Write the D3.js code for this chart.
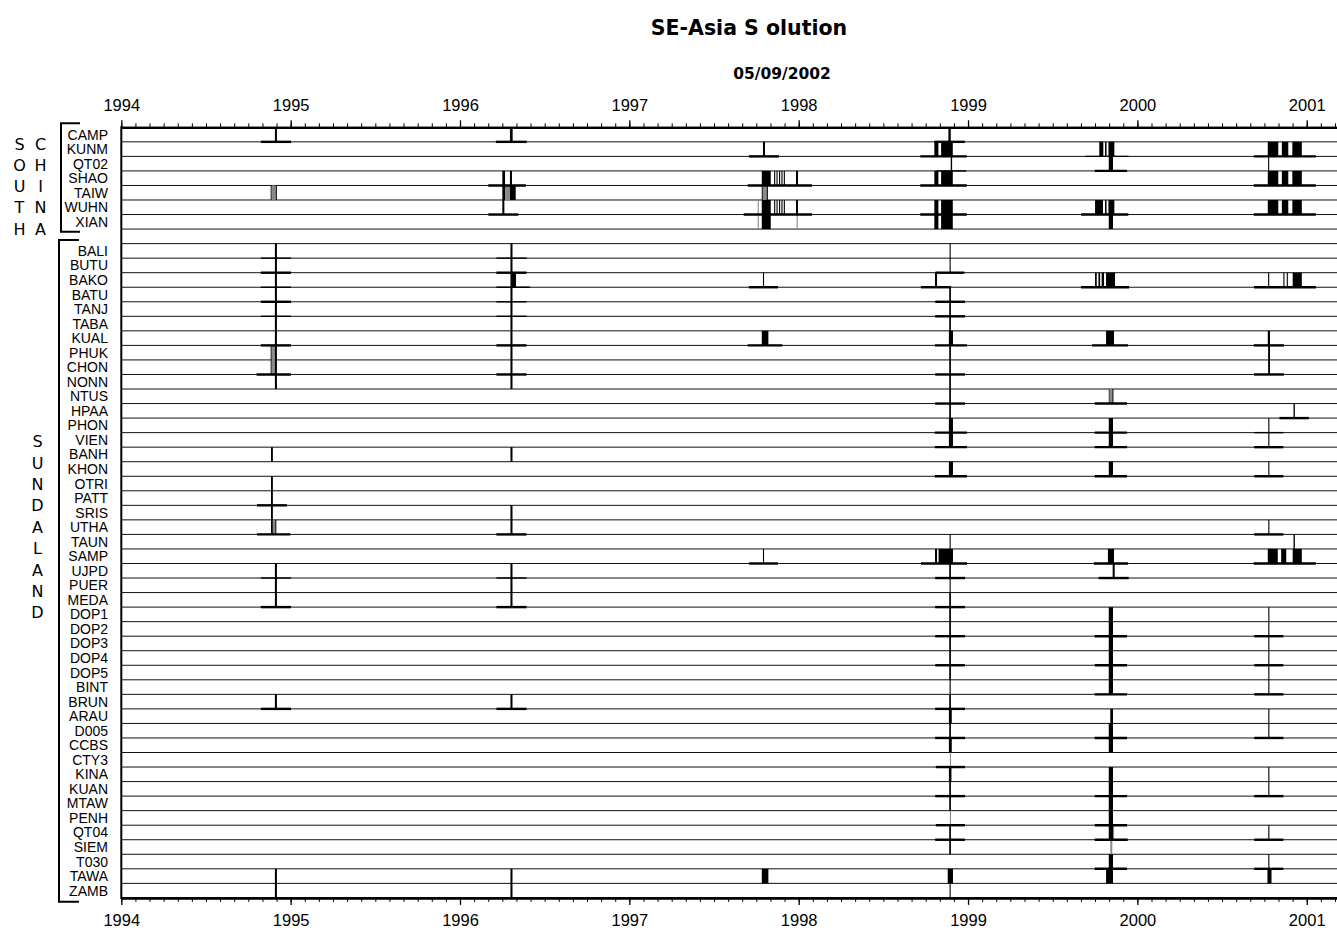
<!DOCTYPE html>
<html>
<head>
<meta charset="utf-8">
<script src="https://cdn.jsdelivr.net/npm/d3@7"></script>
<style>
  html, body { margin: 0; padding: 0; background: #fff; }
  svg { display: block; }
</style>
</head>
<body>
<svg id="chart" width="1337" height="931"></svg>
<script>
// ---------------- DATA ----------------
const titleText = "SE-Asia S olution";
const dateText = "05/09/2002";
const years = [1994, 1995, 1996, 1997, 1998, 1999, 2000, 2001];
const southChina = ["CAMP","KUNM","QT02","SHAO","TAIW","WUHN","XIAN"];
const sundaland = ["BALI","BUTU","BAKO","BATU","TANJ","TABA","KUAL","PHUK","CHON","NONN",
  "NTUS","HPAA","PHON","VIEN","BANH","KHON","OTRI","PATT","SRIS","UTHA","TAUN","SAMP",
  "UJPD","PUER","MEDA","DOP1","DOP2","DOP3","DOP4","DOP5","BINT","BRUN","ARAU","D005",
  "CCBS","CTY3","KINA","KUAN","MTAW","PENH","QT04","SIEM","T030","TAWA","ZAMB"];
const groupNames = ["SOUTH", "CHINA", "SUNDALAND"];
// events: [station, baseline mark level (0 none, 1 faint, 2 strong), bars [[start, end, kind]]]
// kind 1 = secondary (grey) bar
const events = [
  ["CAMP",2,[[1994.907,1994.919]]],
  ["CAMP",2,[[1996.295,1996.311]]],
  ["CAMP",2,[[1998.884,1998.898]]],
  ["KUNM",2,[[1997.789,1997.801]]],
  ["KUNM",2,[[1998.801,1998.825],[1998.841,1998.910]]],
  ["KUNM",1,[[1999.775,1999.799],[1999.809,1999.818],[1999.829,1999.864]]],
  ["KUNM",2,[[2000.770,2000.832],[2000.853,2000.891],[2000.915,2000.971]]],
  ["QT02",1,[[1998.898,1998.906]]],
  ["QT02",2,[[1999.831,1999.856]]],
  ["QT02",0,[[2000.772,2000.776]]],
  ["SHAO",2,[[1996.250,1996.266],[1996.295,1996.307]]],
  ["SHAO",2,[[1997.782,1997.835],[1997.855,1997.861],[1997.869,1997.875],[1997.884,1997.890],[1997.898,1997.904],[1997.912,1997.918],[1997.984,1997.996]]],
  ["SHAO",2,[[1998.801,1998.825],[1998.841,1998.910]]],
  ["SHAO",2,[[2000.770,2000.832],[2000.853,2000.891],[2000.915,2000.971]]],
  ["TAIW",0,[[1994.882,1994.888],[1994.888,1994.912,1],[1994.912,1994.918]]],
  ["TAIW",0,[[1996.250,1996.266],[1996.266,1996.295,1],[1996.295,1996.329]]],
  ["TAIW",0,[[1997.782,1997.788],[1997.788,1997.811,1],[1997.811,1997.818]]],
  ["WUHN",2,[[1996.250,1996.262]]],
  ["WUHN",2,[[1997.758,1997.762,1],[1997.782,1997.835],[1997.855,1997.861],[1997.869,1997.875],[1997.884,1997.890],[1997.898,1997.904],[1997.912,1997.918],[1997.984,1997.996]]],
  ["WUHN",2,[[1998.801,1998.825],[1998.841,1998.910]]],
  ["WUHN",2,[[1999.750,1999.797],[1999.809,1999.818],[1999.829,1999.864]]],
  ["WUHN",2,[[2000.770,2000.832],[2000.853,2000.891],[2000.915,2000.971]]],
  ["XIAN",0,[[1997.758,1997.762,1],[1997.782,1997.835],[1997.988,1997.992,1]]],
  ["XIAN",0,[[1998.801,1998.825],[1998.841,1998.910]]],
  ["XIAN",0,[[1999.831,1999.856]]],

  ["BALI",1,[[1994.907,1994.919]]],
  ["BALI",1,[[1996.298,1996.310]]],
  ["BALI",0,[[1998.891,1998.895]]],
  ["BUTU",2,[[1994.907,1994.919]]],
  ["BUTU",2,[[1996.298,1996.310]]],
  ["BUTU",2,[[1998.891,1998.895]]],
  ["BAKO",1,[[1994.907,1994.919]]],
  ["BAKO",1,[[1996.298,1996.331]]],
  ["BAKO",2,[[1997.789,1997.795]]],
  ["BAKO",2,[[1998.805,1998.817]]],
  ["BAKO",2,[[1999.750,1999.760],[1999.770,1999.780],[1999.789,1999.803],[1999.815,1999.868]]],
  ["BAKO",2,[[2000.772,2000.776],[2000.862,2000.865],[2000.882,2000.886],[2000.917,2000.971]]],
  ["BATU",2,[[1994.907,1994.919]]],
  ["BATU",1,[[1996.298,1996.310]]],
  ["BATU",2,[[1998.889,1998.899]]],
  ["TANJ",1,[[1994.907,1994.919]]],
  ["TANJ",1,[[1996.298,1996.310]]],
  ["TANJ",2,[[1998.889,1998.899]]],
  ["TABA",0,[[1994.907,1994.919]]],
  ["TABA",0,[[1996.298,1996.310]]],
  ["TABA",0,[[1998.889,1998.899]]],
  ["KUAL",2,[[1994.907,1994.919]]],
  ["KUAL",2,[[1996.298,1996.310]]],
  ["KUAL",2,[[1997.782,1997.821]]],
  ["KUAL",2,[[1998.887,1998.911]]],
  ["KUAL",2,[[1999.815,1999.862]]],
  ["KUAL",2,[[2000.770,2000.783]]],
  ["PHUK",0,[[1994.882,1994.888],[1994.888,1994.907,1],[1994.907,1994.919]]],
  ["PHUK",0,[[1996.298,1996.310]]],
  ["PHUK",0,[[1998.889,1998.899]]],
  ["PHUK",0,[[2000.772,2000.783]]],
  ["CHON",2,[[1994.882,1994.888],[1994.888,1994.907,1],[1994.907,1994.919]]],
  ["CHON",2,[[1996.298,1996.310]]],
  ["CHON",2,[[1998.889,1998.899]]],
  ["CHON",2,[[2000.772,2000.783]]],
  ["NONN",0,[[1994.907,1994.919]]],
  ["NONN",0,[[1996.298,1996.310]]],
  ["NONN",0,[[1998.889,1998.899]]],
  ["NTUS",2,[[1998.889,1998.899]]],
  ["NTUS",2,[[1999.831,1999.835],[1999.835,1999.852,1],[1999.852,1999.856]]],
  ["HPAA",0,[[1998.889,1998.899]]],
  ["HPAA",2,[[2000.922,2000.930]]],
  ["PHON",2,[[1998.887,1998.911]]],
  ["PHON",2,[[1999.831,1999.856]]],
  ["PHON",1,[[2000.773,2000.779]]],
  ["VIEN",2,[[1998.887,1998.911]]],
  ["VIEN",2,[[1999.831,1999.856]]],
  ["VIEN",2,[[2000.773,2000.779]]],
  ["BANH",0,[[1994.884,1994.895]]],
  ["BANH",0,[[1996.298,1996.310]]],
  ["KHON",2,[[1998.887,1998.911]]],
  ["KHON",2,[[1999.831,1999.856]]],
  ["KHON",2,[[2000.773,2000.779]]],
  ["OTRI",0,[[1994.884,1994.895]]],
  ["PATT",2,[[1994.884,1994.895]]],
  ["SRIS",0,[[1994.884,1994.895]]],
  ["SRIS",0,[[1996.298,1996.310]]],
  ["UTHA",2,[[1994.884,1994.895],[1994.895,1994.909,1],[1994.909,1994.915]]],
  ["UTHA",2,[[1996.298,1996.310]]],
  ["UTHA",2,[[2000.773,2000.779]]],
  ["TAUN",0,[[1998.891,1998.895]]],
  ["TAUN",0,[[2000.922,2000.930]]],
  ["SAMP",2,[[1997.789,1997.795]]],
  ["SAMP",2,[[1998.805,1998.817],[1998.826,1998.911]]],
  ["SAMP",2,[[1999.826,1999.862]]],
  ["SAMP",2,[[2000.770,2000.829],[2000.849,2000.879],[2000.917,2000.971]]],
  ["UJPD",1,[[1994.907,1994.919]]],
  ["UJPD",1,[[1996.298,1996.310]]],
  ["UJPD",2,[[1998.889,1998.899]]],
  ["UJPD",2,[[1999.854,1999.866]]],
  ["PUER",0,[[1994.907,1994.919]]],
  ["PUER",0,[[1996.298,1996.310]]],
  ["PUER",0,[[1998.891,1998.895]]],
  ["MEDA",2,[[1994.907,1994.919]]],
  ["MEDA",2,[[1996.298,1996.310]]],
  ["MEDA",2,[[1998.889,1998.899]]],
  ["DOP1",0,[[1998.889,1998.899]]],
  ["DOP1",0,[[1999.831,1999.856]]],
  ["DOP1",0,[[2000.773,2000.779]]],
  ["DOP2",2,[[1998.889,1998.899]]],
  ["DOP2",2,[[1999.831,1999.856]]],
  ["DOP2",2,[[2000.773,2000.779]]],
  ["DOP3",0,[[1998.889,1998.899]]],
  ["DOP3",0,[[1999.831,1999.856]]],
  ["DOP3",0,[[2000.773,2000.779]]],
  ["DOP4",2,[[1998.889,1998.899]]],
  ["DOP4",2,[[1999.831,1999.856]]],
  ["DOP4",2,[[2000.773,2000.779]]],
  ["DOP5",0,[[1998.889,1998.899]]],
  ["DOP5",0,[[1999.831,1999.856]]],
  ["DOP5",0,[[2000.773,2000.779]]],
  ["BINT",0,[[1998.891,1998.895]]],
  ["BINT",2,[[1999.831,1999.856]]],
  ["BINT",2,[[2000.773,2000.779]]],
  ["BRUN",2,[[1994.907,1994.919]]],
  ["BRUN",2,[[1996.298,1996.310]]],
  ["BRUN",2,[[1998.889,1998.899]]],
  ["ARAU",0,[[1998.887,1998.904]]],
  ["ARAU",0,[[1999.840,1999.856]]],
  ["ARAU",0,[[2000.773,2000.779]]],
  ["D005",2,[[1998.889,1998.899]]],
  ["D005",2,[[1999.831,1999.856]]],
  ["D005",2,[[2000.773,2000.779]]],
  ["CCBS",0,[[1998.887,1998.904]]],
  ["CCBS",0,[[1999.831,1999.856]]],
  ["CTY3",2,[[1998.893,1998.899,1]]],
  ["KINA",0,[[1998.887,1998.902]]],
  ["KINA",0,[[1999.831,1999.856]]],
  ["KINA",0,[[2000.773,2000.779]]],
  ["KUAN",2,[[1998.889,1998.899]]],
  ["KUAN",2,[[1999.831,1999.856]]],
  ["KUAN",2,[[2000.773,2000.779]]],
  ["MTAW",0,[[1998.889,1998.899]]],
  ["MTAW",0,[[1999.831,1999.856]]],
  ["PENH",2,[[1998.893,1998.899,1]]],
  ["PENH",2,[[1999.831,1999.856]]],
  ["QT04",2,[[1998.889,1998.899]]],
  ["QT04",2,[[1999.831,1999.856],[1999.856,1999.860,1]]],
  ["QT04",2,[[2000.773,2000.779]]],
  ["SIEM",0,[[1998.889,1998.899]]],
  ["SIEM",0,[[1999.840,1999.852,1]]],
  ["T030",2,[[1999.831,1999.856]]],
  ["T030",2,[[2000.773,2000.779]]],
  ["TAWA",0,[[1994.907,1994.919]]],
  ["TAWA",0,[[1996.298,1996.310]]],
  ["TAWA",0,[[1997.782,1997.821]]],
  ["TAWA",0,[[1998.880,1998.911]]],
  ["TAWA",0,[[1999.815,1999.856]]],
  ["TAWA",0,[[2000.768,2000.792]]],
  ["ZAMB",0,[[1994.907,1994.919]]],
  ["ZAMB",0,[[1996.298,1996.310]]],
  ["ZAMB",0,[[1998.891,1998.895]]]
];
const markHalfSpan = 0.083; // years either side of an event cluster

// ---------------- CHART ----------------
const svg = d3.select("#chart");
const FONT = "'Liberation Sans', Arial, Helvetica, sans-serif";
const TITLEFONT = "'DejaVu Sans', Verdana, sans-serif";

const rows = [...southChina, "", ...sundaland];
const x = d3.scaleLinear().domain([1994, 2001.2]).range([121.3, 1340.6]);
const y = d3.scaleBand().domain(rows).range([127.3, 897.9]);
const bw = y.bandwidth();
const barColor = d3.scaleOrdinal().domain([0, 1]).range(["#000", "#8a8a8a"]);
const markWidth = d3.scaleOrdinal().domain([1, 2]).range([1.4, 2.4]);

// Title
svg.append("text").attr("x", 749).attr("y", 35).attr("text-anchor", "middle")
  .attr("font-family", TITLEFONT).attr("font-weight", "bold").attr("font-size", 20.5)
  .text(titleText);
svg.append("text").attr("x", 782).attr("y", 79).attr("text-anchor", "middle")
  .attr("font-family", TITLEFONT).attr("font-weight", "bold").attr("font-size", 15.5)
  .text(dateText);

// baselines for every row
const plot = svg.append("g");
plot.selectAll("line.base").data(rows).join("line")
  .attr("class", "base")
  .attr("x1", x(1994)).attr("x2", x(2001.2))
  .attr("y1", d => y(d) + bw).attr("y2", d => y(d) + bw)
  .attr("stroke", "#111").attr("stroke-width", 1);

// bars
const barData = [];
events.forEach(([st, lvl, bars]) => bars.forEach(b => barData.push({st, s: b[0], e: b[1], k: b[2] || 0})));
plot.selectAll("rect.bar").data(barData).join("rect")
  .attr("class", "bar")
  .attr("x", d => x(d.s))
  .attr("width", d => Math.max(1.1, x(d.e) - x(d.s)))
  .attr("y", d => y(d.st))
  .attr("height", bw)
  .attr("fill", d => barColor(d.k));

// baseline marks
const markData = events.filter(e => e[1] > 0).map(([st, lvl, bars]) => ({
  st, lvl,
  s: d3.min(bars, b => b[0]) - markHalfSpan,
  e: d3.max(bars, b => b[1]) + markHalfSpan
}));
plot.selectAll("line.mark").data(markData).join("line")
  .attr("class", "mark")
  .attr("x1", d => x(d.s)).attr("x2", d => x(d.e))
  .attr("y1", d => y(d.st) + bw).attr("y2", d => y(d.st) + bw)
  .attr("stroke", "#000").attr("stroke-width", d => markWidth(d.lvl));

// Axes
const months = d3.range(0, 7 * 12 + 3).map(i => 1994 + i / 12);
function styleAxis(g, lw) {
  g.selectAll("text").attr("font-family", FONT).attr("font-size", 16.5).attr("fill", "#000");
  g.selectAll("line").attr("stroke", "#000").attr("stroke-width", 1);
  g.select(".domain").attr("stroke", "#000").attr("stroke-width", lw);
}
const yTop = y.range()[0], yBot = y.range()[1];
svg.append("g").attr("transform", `translate(0,${yTop})`)
  .call(d3.axisTop(x).tickValues(months).tickSize(4).tickSizeOuter(0).tickFormat(""))
  .call(g => { styleAxis(g, 2.2); });
svg.append("g").attr("transform", `translate(0,${yTop})`)
  .call(d3.axisTop(x).tickValues(years).tickSize(7).tickSizeOuter(0).tickPadding(9.6).tickFormat(d3.format("d")))
  .call(g => { styleAxis(g, 2.2); g.selectAll("line").attr("stroke-width", 1.3); });
svg.append("g").attr("transform", `translate(0,${yBot})`)
  .call(d3.axisBottom(x).tickValues(months).tickSize(4).tickSizeOuter(0).tickFormat(""))
  .call(g => { styleAxis(g, 2.2); });
svg.append("g").attr("transform", `translate(0,${yBot})`)
  .call(d3.axisBottom(x).tickValues(years).tickSize(7).tickSizeOuter(0).tickPadding(9).tickFormat(d3.format("d")))
  .call(g => { styleAxis(g, 2.2); g.selectAll("line").attr("stroke-width", 1.3); });

// left axis line
svg.append("line").attr("x1", x(1994)).attr("x2", x(1994))
  .attr("y1", yTop - 1).attr("y2", yBot + 1)
  .attr("stroke", "#000").attr("stroke-width", 2);

// station labels (centred in their rows)
svg.append("g").selectAll("text").data(rows.filter(r => r !== "")).join("text")
  .attr("x", 108).attr("y", d => y(d) + bw / 2 + 5)
  .attr("text-anchor", "end")
  .attr("font-family", FONT).attr("font-size", 14).attr("fill", "#000")
  .text(d => d);

// group brackets
function bracket(x0, x1, y0, y1) {
  svg.append("path")
    .attr("d", `M${x1},${y0}H${x0}V${y1}H${x1}`)
    .attr("fill", "none").attr("stroke", "#000").attr("stroke-width", 2);
}
bracket(61, 80, 123.3, 231.7);
bracket(59, 79, 240, 901.7);

// group letters (stacked vertically)
function stacked(word, cx, cy0, step) {
  svg.append("g").selectAll("text").data(word.split("")).join("text")
    .attr("x", cx).attr("y", (d, i) => cy0 + i * step)
    .attr("text-anchor", "middle").attr("dominant-baseline", "central")
    .attr("font-family", TITLEFONT).attr("font-size", 16)
    .attr("fill", "#000")
    .text(d => d);
}
stacked(groupNames[0], 19.5, 144, 21.25);
stacked(groupNames[1], 40.5, 144, 21.25);
stacked(groupNames[2], 37.5, 441.7, 21.4);
</script>
</body>
</html>
